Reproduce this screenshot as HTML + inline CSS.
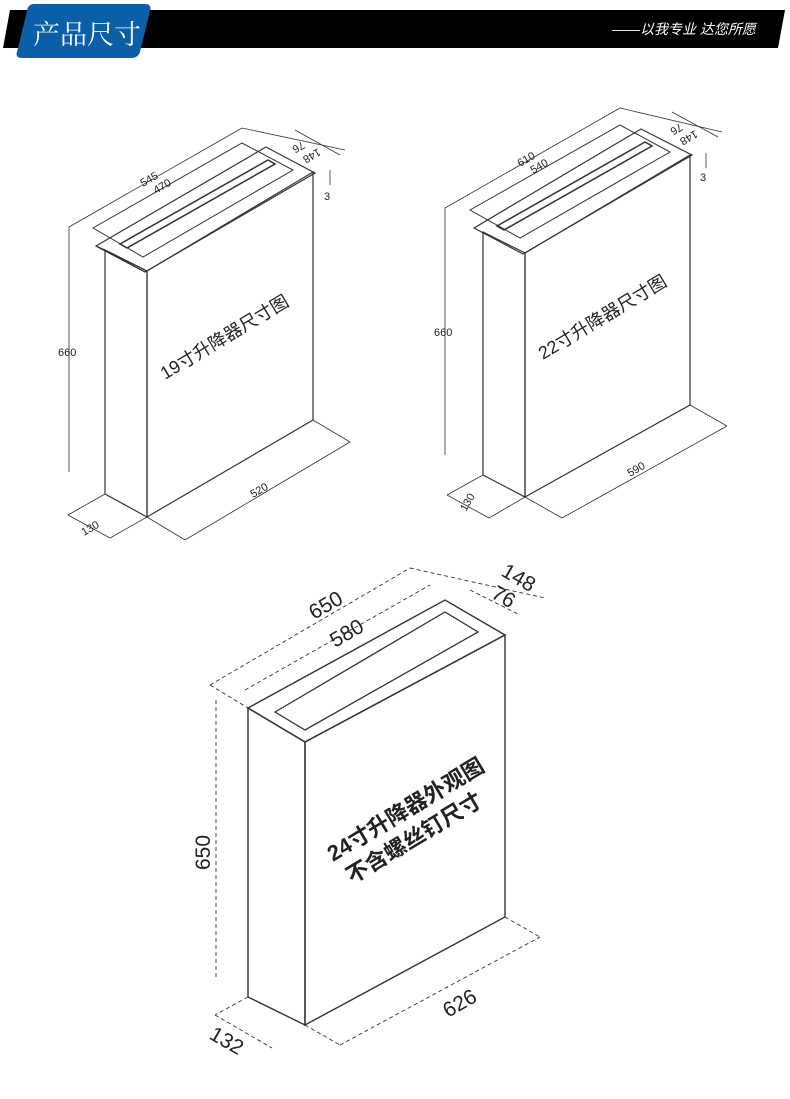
<!DOCTYPE html>
<html><head><meta charset="utf-8"><style>
body{margin:0;background:#fff;}
svg{display:block;font-family:"Liberation Sans","Noto Sans CJK SC",sans-serif;}
</style></head><body>
<svg width="790" height="1099" viewBox="0 0 790 1099" xmlns="http://www.w3.org/2000/svg">
<!-- header -->
<polygon points="10,10 785,10 778,48 3,48" fill="#000"/>
<path d="M30,4 H145 Q152,4 150,11 L140,52 Q138,58 131,58 H22 Q15,58 17,52 L27,11 Q28,4 34,4Z" fill="#0a5fa8"/>
<text x="33" y="44" font-size="27" fill="#fff" font-family="Noto Serif CJK SC,serif">产品尺寸</text>
<text x="612" y="34" font-size="14" fill="#fff" font-style="italic">——以我专业 达您所愿</text>

<g fill="none" stroke="#333" stroke-width="1.2">
<!-- Diagram 1 -->
<polygon points="147,271 313,172 313,420 147,517"/>
<polygon points="105,250 147,271 147,517 105,494"/>
<polygon points="96,246 266,147 315,173 145,272"/>
<polygon points="105,250 96,246 145,272 147,271"/>
<polygon points="93,228 242,143 293,170 143,257" stroke-width="1"/>
<polygon points="120,244 268,160 275,164 127,248" stroke-width="1.5"/>
<line x1="69" y1="227" x2="69" y2="472" stroke-width="0.8"/>
<line x1="69" y1="227" x2="242" y2="128" stroke-width="0.8"/>
<line x1="242" y1="128" x2="345" y2="150" stroke-width="0.8"/>
<line x1="295" y1="130" x2="340" y2="155" stroke-width="0.8"/>
<line x1="330" y1="170" x2="330" y2="185" stroke-width="0.8"/>
<line x1="147" y1="517" x2="185" y2="540" stroke-width="0.8"/>
<line x1="313" y1="420" x2="350" y2="442" stroke-width="0.8"/>
<line x1="185" y1="540" x2="350" y2="442" stroke-width="0.8"/>
<line x1="105" y1="494" x2="68" y2="515" stroke-width="0.8"/>
<line x1="68" y1="515" x2="110" y2="538" stroke-width="0.8"/>
<line x1="110" y1="538" x2="147" y2="517" stroke-width="0.8"/>

<!-- Diagram 2 -->
<polygon points="525,253 690,155 690,405 525,497"/>
<polygon points="483,232 525,253 525,497 483,475"/>
<polygon points="474,228 641,129 692,155 523,254"/>
<polygon points="470,210 620,125 670,152 520,238" stroke-width="1"/>
<polygon points="497,226 645,142 652,146 504,230" stroke-width="1.5"/>
<line x1="445" y1="208" x2="445" y2="455" stroke-width="0.8"/>
<line x1="445" y1="208" x2="620" y2="108" stroke-width="0.8"/>
<line x1="620" y1="108" x2="722" y2="132" stroke-width="0.8"/>
<line x1="672" y1="112" x2="718" y2="137" stroke-width="0.8"/>
<line x1="706" y1="153" x2="706" y2="168" stroke-width="0.8"/>
<line x1="525" y1="497" x2="562" y2="518" stroke-width="0.8"/>
<line x1="690" y1="405" x2="727" y2="426" stroke-width="0.8"/>
<line x1="562" y1="518" x2="727" y2="426" stroke-width="0.8"/>
<line x1="483" y1="475" x2="447" y2="495" stroke-width="0.8"/>
<line x1="447" y1="495" x2="489" y2="518" stroke-width="0.8"/>
<line x1="489" y1="518" x2="525" y2="497" stroke-width="0.8"/>

<!-- Diagram 3 -->
<polygon points="305,742 505,635 505,917 305,1025" stroke-width="1.4"/>
<polygon points="248,708 305,742 305,1025 248,997" stroke-width="1.4"/>
<polygon points="248,708 445,600 505,635 305,742" stroke-width="1.4"/>
<polygon points="275,712 445,612 478,632 305,730" stroke-width="1.3"/>
<g stroke-dasharray="4,3" stroke-width="0.9">
<line x1="216" y1="700" x2="216" y2="980"/>
<line x1="210" y1="685" x2="410" y2="568"/>
<line x1="210" y1="685" x2="248" y2="708"/>
<line x1="410" y1="568" x2="545" y2="598"/>
<line x1="245" y1="690" x2="430" y2="585"/>
<line x1="470" y1="590" x2="520" y2="615"/>
<line x1="505" y1="917" x2="540" y2="937"/>
<line x1="305" y1="1025" x2="340" y2="1045"/>
<line x1="340" y1="1045" x2="540" y2="937"/>
<line x1="248" y1="997" x2="215" y2="1015"/>
<line x1="215" y1="1015" x2="272" y2="1048"/>
</g>
</g>

<g fill="#222">
<text x="0" y="0" font-size="11" transform="translate(143,187) rotate(-30)">545</text>
<text x="0" y="0" font-size="11" transform="translate(156,194) rotate(-30)">470</text>
<text x="0" y="0" font-size="11" transform="translate(318,148) rotate(150)">148</text>
<text x="0" y="0" font-size="11" transform="translate(302,141) rotate(150)">76</text>
<text x="324" y="200" font-size="11">3</text>
<text x="58" y="356" font-size="11">660</text>
<text x="0" y="0" font-size="11" transform="translate(253,498) rotate(-30)">520</text>
<text x="0" y="0" font-size="11" transform="translate(84,536) rotate(-30)">130</text>
<text x="0" y="0" font-size="18" transform="translate(165,380) rotate(-31)">19寸升降器尺寸图</text>

<text x="0" y="0" font-size="11" transform="translate(520,167) rotate(-30)">610</text>
<text x="0" y="0" font-size="11" transform="translate(533,174) rotate(-30)">540</text>
<text x="0" y="0" font-size="11" transform="translate(695,130) rotate(150)">148</text>
<text x="0" y="0" font-size="11" transform="translate(680,123) rotate(150)">76</text>
<text x="700" y="181" font-size="11">3</text>
<text x="434" y="336" font-size="11">660</text>
<text x="0" y="0" font-size="11" transform="translate(630,477) rotate(-30)">590</text>
<text x="0" y="0" font-size="11" transform="translate(466,512) rotate(-60)">130</text>
<text x="0" y="0" font-size="18" transform="translate(543,360) rotate(-31)">22寸升降器尺寸图</text>

<text x="0" y="0" font-size="21" transform="translate(314,620) rotate(-30)">650</text>
<text x="0" y="0" font-size="21" transform="translate(335,648) rotate(-30)">580</text>
<text x="0" y="0" font-size="21" transform="translate(500,575) rotate(30)">148</text>
<text x="0" y="0" font-size="21" transform="translate(490,597) rotate(30)">76</text>
<text x="0" y="0" font-size="21" transform="translate(210,870) rotate(-90)">650</text>
<text x="0" y="0" font-size="21" transform="translate(448,1018) rotate(-30)">626</text>
<text x="0" y="0" font-size="21" transform="translate(208,1038) rotate(30)">132</text>
<text x="0" y="0" font-size="22" font-weight="bold" transform="translate(333,862) rotate(-31)">24寸升降器外观图</text>
<text x="0" y="0" font-size="22" font-weight="bold" transform="translate(352,884) rotate(-31)">不含螺丝钉尺寸</text>
</g>
</svg>
</body></html>
